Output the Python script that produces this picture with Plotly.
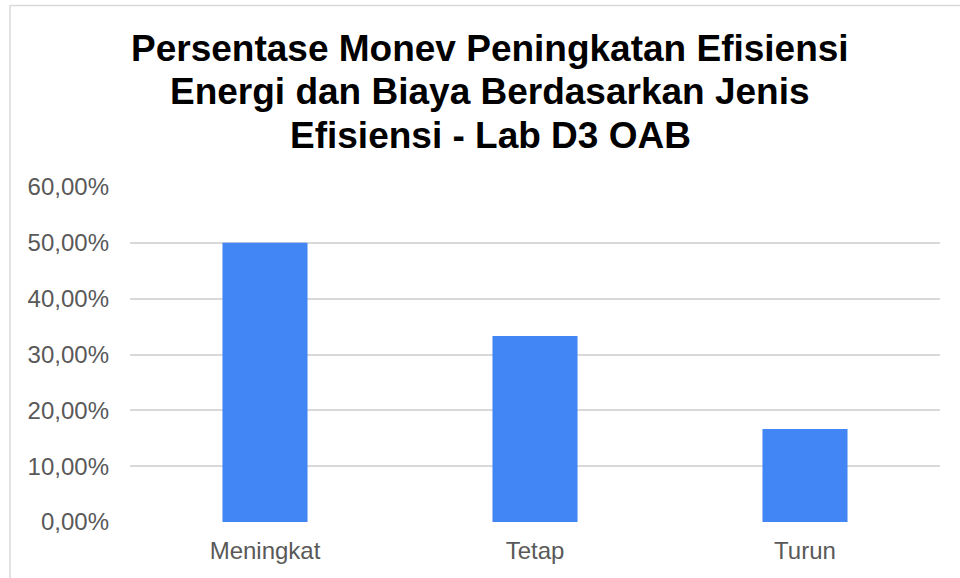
import plotly.graph_objects as go

# Categories and shares (fractions) of efficiency monitoring results
categories = ["Meningkat", "Tetap", "Turun"]
shares = [0.5, 0.3333, 0.1667]
y_ticks = [0, 0.1, 0.2, 0.3, 0.4, 0.5, 0.6]

title_lines = [
    "Persentase Monev Peningkatan Efisiensi",
    "Energi dan Biaya Berdasarkan Jenis",
    "Efisiensi - Lab D3 OAB",
]

W, H = 960, 578
L, R, T, B = 130, 20, 187, 56
plot_w = W - L - R
plot_h = H - T - B


def px_x(x):
    return (x - L) / plot_w


def px_y(y):
    return (H - B - y) / plot_h


fig = go.Figure(
    go.Bar(
        x=categories,
        y=shares,
        marker=dict(color="#4285F4", line=dict(width=0)),
        width=0.315,
    )
)

font = "Liberation Sans, Arial, sans-serif"

annotations = []
for i, line in enumerate(title_lines):
    annotations.append(
        dict(
            text="<b>%s</b>" % line,
            xref="paper",
            yref="paper",
            x=px_x(490),
            y=px_y(48 + i * 43.5),
            xanchor="center",
            yanchor="middle",
            showarrow=False,
            font=dict(family=font, size=37, color="#000000"),
        )
    )

fig.update_layout(
    width=W,
    height=H,
    margin=dict(l=L, r=R, t=T, b=B, pad=0),
    paper_bgcolor="white",
    plot_bgcolor="white",
    separators=",.",
    showlegend=False,
    annotations=annotations,
    shapes=[
        dict(type="line", xref="paper", yref="paper",
             x0=px_x(10), x1=px_x(965), y0=px_y(5.5), y1=px_y(5.5),
             line=dict(color="#d9d9d9", width=1.5)),
        dict(type="line", xref="paper", yref="paper",
             x0=px_x(10), x1=px_x(10), y0=px_y(5.5), y1=px_y(585),
             line=dict(color="#d9d9d9", width=1.5)),
    ],
    xaxis=dict(
        showgrid=False,
        showline=False,
        zeroline=False,
        ticks="",
        ticklabelstandoff=12,
        tickfont=dict(family=font, size=24, color="#595959"),
    ),
    yaxis=dict(
        range=[0, 0.6],
        tickvals=y_ticks,
        tickformat=".2%",
        showgrid=True,
        gridcolor="#d9d9d9",
        gridwidth=1.5,
        zeroline=False,
        showline=False,
        ticks="",
        ticklabelstandoff=20,
        tickfont=dict(family=font, size=24, color="#595959"),
    ),
)

fig.write_html("out.html")
